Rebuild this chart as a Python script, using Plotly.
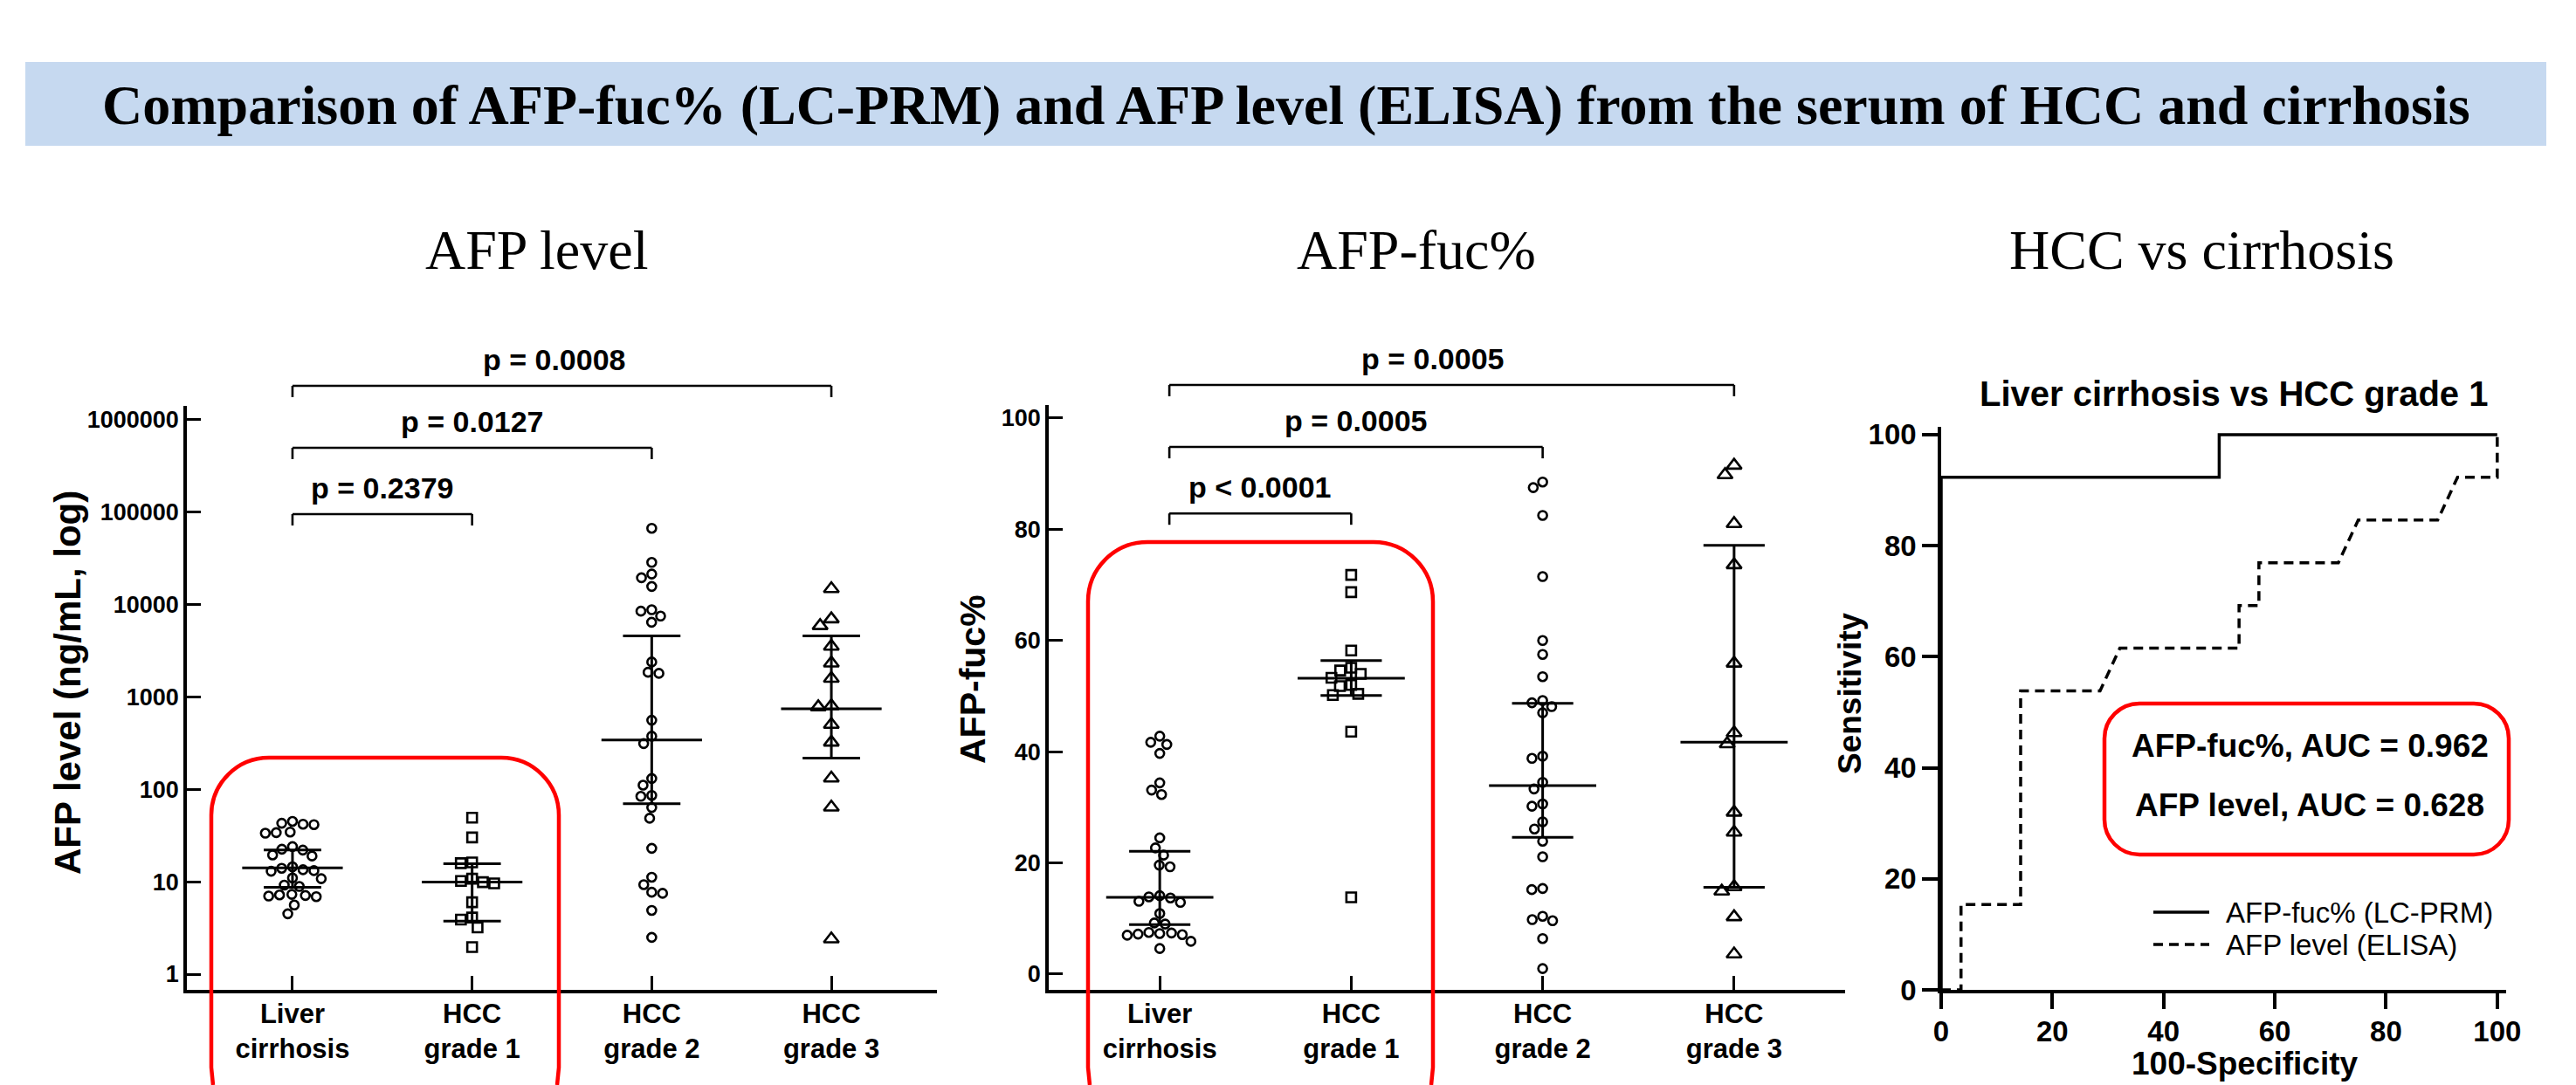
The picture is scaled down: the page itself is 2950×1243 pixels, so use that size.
import math
import plotly.graph_objects as go

# ---------------- data ----------------
categories = ["Liver<br>cirrhosis", "HCC<br>grade 1", "HCC<br>grade 2", "HCC<br>grade 3"]

# AFP level (ng/mL)
afp_cirrhosis = [45, 43, 42, 41.5, 34.5, 34, 33.5, 24, 22.5, 22, 19.5, 19, 14.5, 14, 13.5, 13.2,
                 13, 11, 10.8, 9.2, 8.9, 7.3, 7.2, 7.1, 7.0, 6.9, 5.6, 4.5]
afp_grade1 = [49.3, 30.2, 16.2, 15.9, 10.8, 10.2, 9.9, 9.6, 6.0, 4.1, 3.9, 3.2, 1.96]
afp_grade2 = [66900, 28600, 21400, 19500, 15700, 8790, 8480, 7500, 6430, 2390, 1850, 1800, 560,
              376, 313, 131, 111, 86, 84, 63.6, 48.7, 23, 11.2, 9.3, 7.7, 7.5, 4.9, 2.5]
afp_grade3 = [14800, 6980, 5900, 3530, 2320, 1585, 800, 780, 503, 323, 132, 64, 2.4]
afp_median = [14.1, 9.9, 343, 746]
afp_q1 = [8.7, 3.74, 70, 218]
afp_q3 = [22.1, 15.7, 4580, 4590]
afp_pvalues = ["p = 0.2379", "p = 0.0127", "p = 0.0008"]

# AFP-fuc%
fuc_cirrhosis = [42.8, 41.7, 41.3, 39.7, 34.4, 33.1, 32.3, 24.5, 22.7, 21.4, 19.6, 19.3, 14.1, 13.9,
                 13.7, 13.1, 12.9, 10.9, 9.2, 9.0, 7.5, 7.4, 7.3, 7.2, 7.1, 7.0, 5.9, 4.6]
fuc_grade1 = [71.8, 68.7, 58.2, 55.1, 54.6, 54.0, 53.3, 52.0, 51.8, 50.4, 50.2, 43.6, 13.8]
fuc_grade2 = [88.5, 87.5, 82.5, 71.5, 60, 57.5, 53.5, 49.2, 48.8, 48.1, 47, 39.2, 38.8, 34.5, 33.3,
              30.6, 30.2, 27.4, 26.1, 23.9, 21.1, 15.4, 15.2, 10.4, 9.8, 9.6, 6.4, 1.0]
fuc_grade3 = [91.5, 89.8, 81.0, 73.6, 55.9, 43.4, 41.4, 29.1, 25.5, 15.7, 14.9, 10.3, 3.6]
fuc_median = [13.8, 53.2, 33.9, 41.7]
fuc_q1 = [8.9, 50.1, 24.6, 15.6]
fuc_q3 = [22.1, 56.4, 48.7, 77.1]
fuc_pvalues = ["p < 0.0001", "p = 0.0005", "p = 0.0005"]

# ROC: Liver cirrhosis vs HCC grade 1
roc_fuc_x = [0, 0, 50, 50, 100]
roc_fuc_y = [0, 92.31, 92.31, 100, 100]
roc_afp_x = [0, 3.57, 3.57, 14.29, 14.29, 28.57, 32.14, 53.57, 53.57, 57.14, 57.14, 71.43, 75.0,
             89.29, 92.86, 100, 100]
roc_afp_y = [0, 0, 15.38, 15.38, 53.85, 53.85, 61.54, 61.54, 69.23, 69.23, 76.92, 76.92, 84.62,
             84.62, 92.31, 92.31, 100]
auc_labels = ["AFP-fuc%, AUC = 0.962", "AFP level, AUC = 0.628"]
roc_names = ["AFP-fuc% (LC-PRM)", "AFP level (ELISA)"]

# ---------------- layout helpers ----------------
W, H = 2950, 1243
SANS = "Arial, 'Liberation Sans', sans-serif"
SERIF = "'Times New Roman', 'Liberation Serif', serif"


def fx(px):
    return px / W


def fy(py):
    return 1 - py / H


# pixel boxes (page coordinates) of the three plotting areas
L_X, L_Y = (214, 1073), (465, 1134)
M_X, M_Y = (1201, 2113), (464, 1134)
R_X, R_Y = (2223, 2870), (489, 1134)
CAT_RANGE_L = [-0.588, 3.588]
CAT_RANGE_M = [-0.58, 3.58]
LOG_RANGE = [-0.17, 6.15]
FUC_RANGE = [-2.83, 102.35]


def swarm(values, ypx, D):
    """Deterministic beeswarm offsets (pixels) for values mapped to pixel y."""
    ys = [ypx(v) for v in values]
    order = sorted(range(len(values)), key=lambda i: -ys[i])
    placed, xs = [], [0.0] * len(values)
    for i in order:
        y = ys[i]
        cands = [0.0]
        for (px_, py_) in placed:
            dy = abs(y - py_)
            if dy < D:
                dx = math.sqrt(D * D - dy * dy)
                cands += [px_ + dx, px_ - dx]
        cands.sort(key=lambda c: (round(abs(c), 6), c))
        for c in cands:
            if all((c - a) ** 2 + (y - b) ** 2 >= D * D - 1e-6 for a, b in placed):
                xs[i] = c
                break
        placed.append((xs[i], y))
    return xs


fig = go.Figure()

markers = [("circle-open", 10, 12.5), ("square-open", 11, 13), ("circle-open", 10, 12.5),
           ("triangle-up-open", 15, 15)]


def add_scatter_panel(groups, med, q1, q3, xa, ya, ypx, xunit):
    for i, vals in enumerate(groups):
        sym, size, D = markers[i]
        offs = swarm(vals, ypx, D)
        fig.add_trace(go.Scatter(
            x=[i + o / xunit for o in offs], y=vals, mode="markers",
            marker=dict(symbol=sym, size=size, color="black", line=dict(color="black", width=2.6)),
            xaxis=xa, yaxis=ya, showlegend=False, cliponaxis=False, hoverinfo="y"))
    lx, ly = [], []
    for i in range(len(groups)):
        lx += [i - 0.28, i + 0.28, None, i - 0.16, i + 0.16, None, i - 0.16, i + 0.16, None, i, i, None]
        ly += [med[i], med[i], None, q1[i], q1[i], None, q3[i], q3[i], None, q1[i], q3[i], None]
    fig.add_trace(go.Scatter(x=lx, y=ly, mode="lines", line=dict(color="black", width=3),
                             xaxis=xa, yaxis=ya, showlegend=False, hoverinfo="skip"))


l_ypp = (L_Y[1] - L_Y[0]) / (LOG_RANGE[1] - LOG_RANGE[0])
l_xpp = (L_X[1] - L_X[0]) / (CAT_RANGE_L[1] - CAT_RANGE_L[0])
m_ypp = (M_Y[1] - M_Y[0]) / (FUC_RANGE[1] - FUC_RANGE[0])
m_xpp = (M_X[1] - M_X[0]) / (CAT_RANGE_M[1] - CAT_RANGE_M[0])

add_scatter_panel([afp_cirrhosis, afp_grade1, afp_grade2, afp_grade3], afp_median, afp_q1, afp_q3,
                  "x", "y", lambda v: math.log10(v) * l_ypp, l_xpp)
add_scatter_panel([fuc_cirrhosis, fuc_grade1, fuc_grade2, fuc_grade3], fuc_median, fuc_q1, fuc_q3,
                  "x2", "y2", lambda v: v * m_ypp, m_xpp)

fig.add_trace(go.Scatter(x=roc_fuc_x, y=roc_fuc_y, mode="lines", name=roc_names[0],
                         line=dict(color="black", width=3.5), xaxis="x3", yaxis="y3", showlegend=False))
fig.add_trace(go.Scatter(x=roc_afp_x, y=roc_afp_y, mode="lines", name=roc_names[1],
                         line=dict(color="black", width=3.5, dash="11px,7px"), xaxis="x3", yaxis="y3",
                         showlegend=False))

# ---------------- axes ----------------
common = dict(automargin=False, showgrid=False, zeroline=False, showline=True, linewidth=3.5,
              linecolor="black", tickcolor="black")
cat_axis = dict(common, tickmode="array", tickvals=[0, 1, 2, 3], ticktext=categories, ticks="inside",
                ticklen=16, tickwidth=3, ticklabelstandoff=-3,
                tickfont=dict(family=SANS, size=31, color="black", weight="bold"))
val_axis = dict(common, ticks="inside", ticklen=16, tickwidth=3,
                tickfont=dict(family=SANS, size=27, color="black", weight="bold"))
roc_axis = dict(common, ticks="outside", ticklen=18, tickwidth=3.5,
                tickmode="array", tickvals=[0, 20, 40, 60, 80, 100],
                tickfont=dict(family=SANS, size=33, color="black", weight="bold"))

layout = dict(
    width=W, height=H, margin=dict(l=0, r=0, t=0, b=0, autoexpand=False),
    paper_bgcolor="white", plot_bgcolor="rgba(0,0,0,0)", showlegend=False,
    xaxis=dict(cat_axis, domain=[fx(L_X[0]), fx(L_X[1])], range=CAT_RANGE_L, anchor="y"),
    yaxis=dict(val_axis, domain=[fy(L_Y[1]), fy(L_Y[0])], type="log", range=LOG_RANGE, anchor="x",
               tickmode="array", tickvals=[1, 10, 100, 1000, 10000, 100000, 1000000],
               ticktext=["1", "10", "100", "1000", "10000", "100000", "1000000"]),
    xaxis2=dict(cat_axis, domain=[fx(M_X[0]), fx(M_X[1])], range=CAT_RANGE_M, anchor="y2"),
    yaxis2=dict(val_axis, domain=[fy(M_Y[1]), fy(M_Y[0])], range=FUC_RANGE, anchor="x2",
                tickmode="array", tickvals=[0, 20, 40, 60, 80, 100]),
    xaxis3=dict(roc_axis, domain=[fx(R_X[0]), fx(R_X[1])], range=[0, 101.6], anchor="y3",
                ticklabelstandoff=-2),
    yaxis3=dict(roc_axis, domain=[fy(R_Y[1]), fy(R_Y[0])], range=[0, 101.4], anchor="x3"),
)
fig.update_layout(**layout)

shapes, annots = [], []

# title band
shapes.append(dict(type="rect", xref="paper", yref="paper", x0=fx(29), x1=fx(2916), y0=fy(167),
                   y1=fy(71), fillcolor="#C6D9F0", line=dict(width=0), layer="below"))
annots.append(dict(text="Comparison of AFP-fuc% (LC-PRM) and AFP level (ELISA) from the serum of HCC and cirrhosis",
                   x=fx(1473), y=fy(120), xref="paper", yref="paper", showarrow=False,
                   xanchor="center", yanchor="middle",
                   font=dict(family=SERIF, size=64, color="black", weight="bold")))
for txt, cx in [("AFP level", 614), ("AFP-fuc%", 1622), ("HCC vs cirrhosis", 2521)]:
    annots.append(dict(text=txt, x=fx(cx), y=fy(286), xref="paper", yref="paper", showarrow=False,
                       xanchor="center", yanchor="middle",
                       font=dict(family=SERIF, size=64, color="black")))

# significance brackets
dom_h = L_Y[1] - L_Y[0]
levels = [(1134 - 589) / dom_h, (1134 - 513) / dom_h, (1134 - 442) / dom_h]
drop = 13 / dom_h
label_gap = 30 / dom_h
for xa, ya, pvals, start, topshift in [("x", "y", afp_pvalues, 0.0, -0.04),
                                       ("x2", "y2", fuc_pvalues, 0.05, -0.1)]:
    for k, (lvl, txt) in enumerate(zip(levels, pvals)):
        end = k + 1
        for (a0, a1, b0, b1) in [(start, end, lvl, lvl), (start, start, lvl - drop, lvl),
                                 (end, end, lvl - drop, lvl)]:
            shapes.append(dict(type="line", xref=xa, yref=ya + " domain", x0=a0, x1=a1, y0=b0, y1=b1,
                               line=dict(color="black", width=2.6)))
        annots.append(dict(text=txt, x=(start + end) / 2 + (topshift if k == 2 else 0),
                           y=lvl + label_gap, xref=xa, yref=ya + " domain", showarrow=False,
                           xanchor="center", yanchor="middle",
                           font=dict(family=SANS, size=34, color="black", weight="bold")))

# axis titles
for txt, cx, cy, size in [("AFP level (ng/mL, log)", 77, 782, 42), ("AFP-fuc%", 1114, 778, 41),
                          ("Sensitivity", 2118, 795, 37)]:
    annots.append(dict(text=txt, x=fx(cx), y=fy(cy), xref="paper", yref="paper", showarrow=False,
                       textangle=-90, xanchor="center", yanchor="middle",
                       font=dict(family=SANS, size=size, color="black", weight="bold")))
annots.append(dict(text="100-Specificity", x=fx(2571), y=fy(1218), xref="paper", yref="paper",
                   showarrow=False, xanchor="center", yanchor="middle",
                   font=dict(family=SANS, size=37, color="black", weight="bold")))
annots.append(dict(text="Liver cirrhosis vs HCC grade 1", x=fx(2558), y=fy(451), xref="paper",
                   yref="paper", showarrow=False, xanchor="center", yanchor="middle",
                   font=dict(family=SANS, size=40, color="black", weight="bold")))


def P(x, y):
    return f"{fx(x):.5f},{fy(y):.5f}"


def rounded_path(x0, y0, x1, y1, r):
    k = 0.5523 * r
    return (f"M {P(x0 + r, y0)} L {P(x1 - r, y0)} C {P(x1 - r + k, y0)} {P(x1, y0 + r - k)} {P(x1, y0 + r)} "
            f"L {P(x1, y1 - r)} C {P(x1, y1 - r + k)} {P(x1 - r + k, y1)} {P(x1 - r, y1)} "
            f"L {P(x0 + r, y1)} C {P(x0 + r - k, y1)} {P(x0, y1 - r + k)} {P(x0, y1 - r)} "
            f"L {P(x0, y0 + r)} C {P(x0, y0 + r - k)} {P(x0 + r - k, y0)} {P(x0 + r, y0)} Z")


def open_box_path(x0, y0, x1, ybot, r):
    """Rounded box whose bottom edge lies below the page: only the visible part is drawn."""
    k = 0.5523 * r
    return (f"M {P(x0 + 2, ybot)} L {P(x0, ybot - 20)} L {P(x0, y0 + r)} "
            f"C {P(x0, y0 + r - k)} {P(x0 + r - k, y0)} {P(x0 + r, y0)} "
            f"L {P(x1 - r, y0)} C {P(x1 - r + k, y0)} {P(x1, y0 + r - k)} {P(x1, y0 + r)} "
            f"L {P(x1, ybot - 20)} L {P(x1 - 2, ybot)}")


for (x0, y0, x1, r) in [(242, 868, 640, 66), (1246, 621, 1641, 68)]:
    shapes.append(dict(type="path", xref="paper", yref="paper", path=open_box_path(x0, y0, x1, H, r),
                       line=dict(color="#FF0000", width=4.5)))
shapes.append(dict(type="path", xref="paper", yref="paper", path=rounded_path(2410, 806, 2873, 979, 40),
                   line=dict(color="#FF0000", width=4.5)))

for txt, cy in zip(auc_labels, [854, 922]):
    annots.append(dict(text=txt, x=fx(2645), y=fy(cy), xref="paper", yref="paper", showarrow=False,
                       xanchor="center", yanchor="middle",
                       font=dict(family=SANS, size=37, color="black", weight="bold")))

# legend
for txt, cy, dash in zip(roc_names, [1045, 1082], ["solid", "11px,7px"]):
    shapes.append(dict(type="line", xref="paper", yref="paper", x0=fx(2466), x1=fx(2530), y0=fy(cy),
                       y1=fy(cy), line=dict(color="black", width=3.5, dash=dash)))
    annots.append(dict(text=txt, x=fx(2547), y=fy(cy), xref="paper", yref="paper", showarrow=False,
                       xanchor="left", yanchor="middle",
                       font=dict(family=SANS, size=33, color="black")))

fig.update_layout(shapes=shapes, annotations=annots)

fig.write_html("out.html", config={"displayModeBar": False},
               post_script="document.body.style.margin='0';document.body.style.overflow='hidden';")
